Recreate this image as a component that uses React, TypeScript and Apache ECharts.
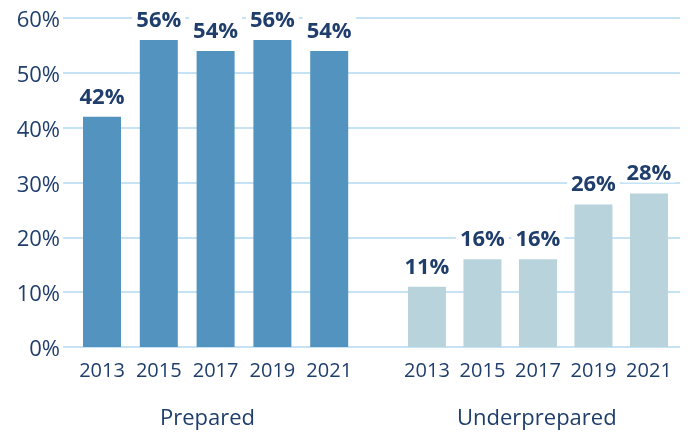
import React, { useEffect, useRef } from "react";
import * as echarts from "echarts";

const years = ["2013", "2015", "2017", "2019", "2021"];
const prepared = [42, 56, 54, 56, 54];
const underprepared = [11, 16, 16, 26, 28];
const groupNames = ["Prepared", "Underprepared"];

const NAVY = "#1f3e6c";
const FONT = "'Open Sans', 'Noto Sans', sans-serif";

export default function App() {
  const ref = useRef<HTMLDivElement>(null);
  useEffect(() => {
    if (!ref.current) return;
    const chart = echarts.init(ref.current, undefined, { renderer: "svg" });
    const top = 18;
    const bottom = 85;
    const hiddenY = (gi: number) => ({
      type: "value",
      gridIndex: gi,
      min: 0,
      max: 60,
      interval: 10,
      show: false,
      splitLine: { show: false },
    });
    const xCat = (gi: number) => ({
      type: "category",
      gridIndex: gi,
      data: years,
      axisLine: { show: false },
      axisTick: { show: false },
      axisLabel: {
        color: NAVY,
        fontSize: 20,
        fontFamily: FONT,
        margin: 12,
        interval: 0,
        hideOverlap: false,
      },
    });
    const label = {
      show: true,
      position: "top",
      distance: 11,
      formatter: "{c}%",
      color: NAVY,
      fontSize: 22,
      fontWeight: "bold",
      fontFamily: FONT,
      backgroundColor: "#ffffff",
      padding: [1, 4, 0, 4],
    };
    chart.setOption({
      animation: false,
      grid: [
        { left: 63, right: 12, top, bottom },
        { left: 73.6, width: 284, top, bottom },
        { left: 399.2, width: 277.5, top, bottom },
      ],
      xAxis: [
        { type: "value", gridIndex: 0, show: false, min: 0, max: 1, splitLine: { show: false } },
        xCat(1),
        xCat(2),
      ],
      yAxis: [
        {
          type: "value",
          gridIndex: 0,
          min: 0,
          max: 60,
          interval: 10,
          axisLine: { show: false },
          axisTick: { show: false },
          axisLabel: {
            formatter: "{value}%",
            color: NAVY,
            fontSize: 22,
            fontFamily: FONT,
            margin: 3,
          },
          splitLine: { show: true, lineStyle: { color: "#c6e3f5", width: 2 } },
        },
        hiddenY(1),
        hiddenY(2),
      ],
      series: [
        {
          type: "bar",
          name: groupNames[0],
          xAxisIndex: 1,
          yAxisIndex: 1,
          data: prepared,
          barWidth: 38,
          itemStyle: { color: "#5393bf" },
          label,
          z: 3,
        },
        {
          type: "bar",
          name: groupNames[1],
          xAxisIndex: 2,
          yAxisIndex: 2,
          data: underprepared,
          barWidth: 38,
          itemStyle: { color: "#b8d3dc" },
          label,
          z: 3,
        },
      ],
      graphic: [
        {
          type: "text",
          left: 160,
          top: 405,
          style: { text: groupNames[0], fill: NAVY, fontSize: 22, fontFamily: FONT },
        },
        {
          type: "text",
          left: 457,
          top: 405,
          style: { text: groupNames[1], fill: NAVY, fontSize: 22, fontFamily: FONT },
        },
      ],
    });
    return () => chart.dispose();
  }, []);
  return (
    <div
      ref={ref}
      style={{ position: "fixed", left: 0, top: 0, width: 692, height: 432 }}
    />
  );
}
